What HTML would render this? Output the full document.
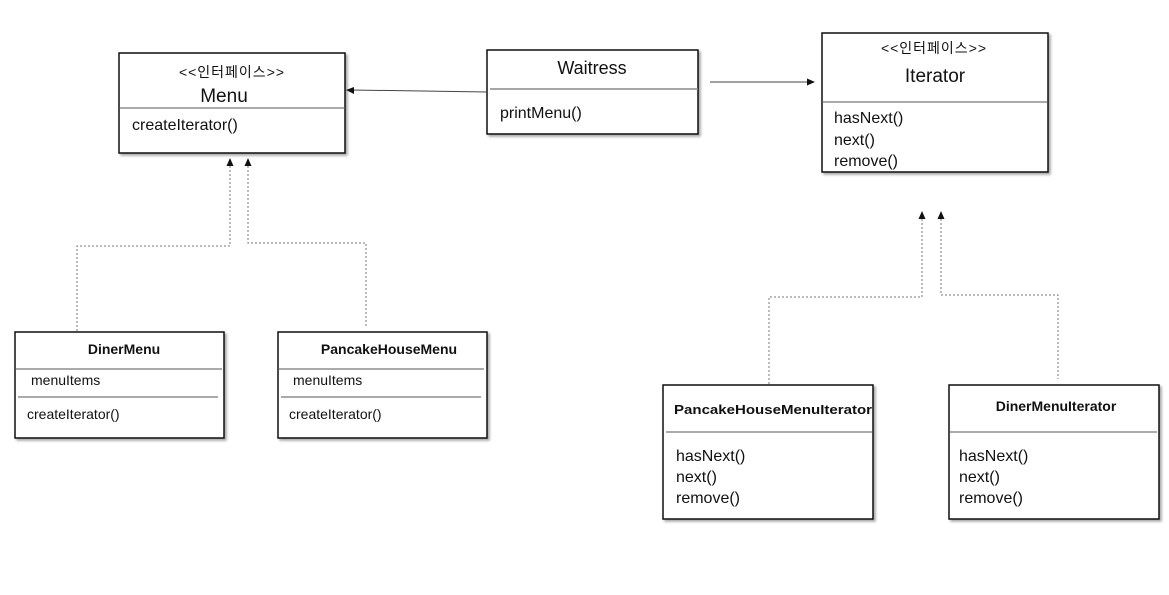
<!DOCTYPE html>
<html><head><meta charset="utf-8"><style>
html,body{margin:0;padding:0;background:#fff;}
svg{display:block;}
text{font-family:"Liberation Sans","Noto Sans CJK KR",sans-serif;fill:#111;}
</style></head><body>
<svg width="1169" height="595" viewBox="0 0 1169 595" xmlns="http://www.w3.org/2000/svg">
<defs>
<filter id="sh" x="-5%" y="-5%" width="115%" height="120%"><feDropShadow dx="2" dy="2" stdDeviation="1.2" flood-color="#000" flood-opacity="0.35"/></filter>
</defs>
<g fill="#fff" stroke="#111" stroke-width="1.5" filter="url(#sh)">
<rect x="119" y="53" width="226" height="100"/>
<rect x="487" y="50" width="211" height="84"/>
<rect x="822" y="33" width="226" height="139"/>
<rect x="15" y="332" width="209" height="106"/>
<rect x="278" y="332" width="209" height="106"/>
<rect x="663" y="385" width="210" height="134"/>
<rect x="949" y="385" width="210" height="134"/>
</g>
<g stroke="#555" stroke-width="1">
<line x1="119" y1="108" x2="345" y2="108"/>
<line x1="490" y1="89" x2="698" y2="89" stroke="#888" stroke-width="1.5"/>
<line x1="822" y1="102" x2="1048" y2="102"/>
<line x1="15" y1="369" x2="222" y2="369"/>
<line x1="18" y1="397" x2="218" y2="397"/>
<line x1="278" y1="369" x2="484" y2="369"/>
<line x1="281" y1="397" x2="481" y2="397"/>
<line x1="666" y1="432" x2="873" y2="432"/>
<line x1="950" y1="432" x2="1157" y2="432"/>
</g>
<g stroke="#444" stroke-width="1" fill="none">
<line x1="487" y1="92" x2="352" y2="90"/>
<line x1="710" y1="82" x2="808" y2="82"/>
</g>
<polygon points="346,90 354,87 354,94" fill="#111"/>
<polygon points="815,82 807,78.5 807,85.5" fill="#111"/>
<g stroke="#777" stroke-width="1" fill="none" stroke-dasharray="2,2">
<polyline points="230,166 230,246 77,246 77,332"/>
<polyline points="248,166 248,243 366,243 366,326"/>
<polyline points="922,219 922,297 769,297 769,385"/>
<polyline points="941,219 941,295 1058,295 1058,379"/>
</g>
<g fill="#111">
<polygon points="230,158 226.5,166 233.5,166"/>
<polygon points="248,158 244.5,166 251.5,166"/>
<polygon points="922,211 918.5,219 925.5,219"/>
<polygon points="941,211 937.5,219 944.5,219"/>
</g>
<text x="232" y="77" font-size="14" letter-spacing="1" text-anchor="middle">&lt;&lt;인터페이스&gt;&gt;</text>
<text x="224" y="102" font-size="19" text-anchor="middle">Menu</text>
<text x="132" y="130" font-size="16">createIterator()</text>
<text x="592" y="74" font-size="18" text-anchor="middle">Waitress</text>
<text x="500" y="118" font-size="16">printMenu()</text>
<text x="934" y="53" font-size="14" letter-spacing="1" text-anchor="middle">&lt;&lt;인터페이스&gt;&gt;</text>
<text x="935" y="82" font-size="19" text-anchor="middle">Iterator</text>
<text x="834" y="123" font-size="16">hasNext()</text>
<text x="834" y="145" font-size="16">next()</text>
<text x="834" y="166" font-size="16">remove()</text>
<text x="124" y="354" font-size="14" font-weight="bold" text-anchor="middle">DinerMenu</text>
<text x="31" y="385" font-size="14">menuItems</text>
<text x="27" y="419" font-size="14">createIterator()</text>
<text x="389" y="354" font-size="14" font-weight="bold" text-anchor="middle">PancakeHouseMenu</text>
<text x="293" y="385" font-size="14">menuItems</text>
<text x="289" y="419" font-size="14">createIterator()</text>
<text x="674" y="414" font-size="13" font-weight="bold" textLength="198" lengthAdjust="spacingAndGlyphs">PancakeHouseMenuIterator</text>
<text x="1056" y="411" font-size="14" font-weight="bold" text-anchor="middle">DinerMenuIterator</text>
<text x="676" y="461" font-size="16">hasNext()</text>
<text x="676" y="482" font-size="16">next()</text>
<text x="676" y="503" font-size="16">remove()</text>
<text x="959" y="461" font-size="16">hasNext()</text>
<text x="959" y="482" font-size="16">next()</text>
<text x="959" y="503" font-size="16">remove()</text>
</svg>
</body></html>
